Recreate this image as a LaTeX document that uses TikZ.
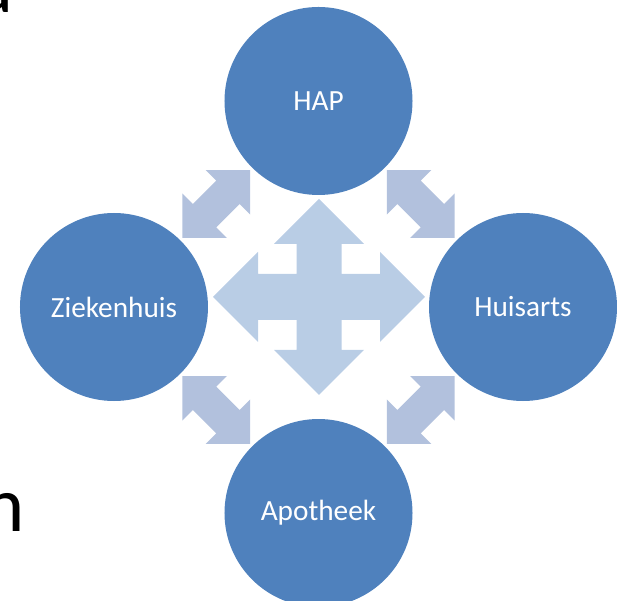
\documentclass[tikz,border=0pt]{standalone}
\usepackage{fontspec}
\setmainfont{Carlito}
\usepackage{tikz}
\usetikzlibrary{calc,positioning}
\definecolor{hubblue}{HTML}{4F81BD}
\definecolor{crossblue}{HTML}{B9CDE5}
\definecolor{linkblue}{HTML}{B2C1DD}
\tikzset{
    node distance =6.18cm and 6.135cm,on grid,
    hub/.style ={circle, fill=hubblue, minimum size = 5.64cm, inner sep=0pt, text=white, font=\fontsize{25}{30}\selectfont},
    frag/.style = {inner sep=0pt, anchor=base west, font=\fontsize{67}{80}\selectfont},
    link/.pic = {
        \fill[linkblue] (48,0) -- (16.5,31.5) -- (16.5,16.5) -- (-16.5,16.5) -- (-16.5,31.5)
            -- (-48,0) -- (-16.5,-31.5) -- (-16.5,-16.5) -- (16.5,-16.5) -- (16.5,-31.5) -- cycle;
    }
}

\begin{document}
\begin{tikzpicture}[x=0.03cm,y=0.03cm]
        \useasboundingbox (0,0) rectangle (617,601);

        \node[hub] (hap) at (318.5,500) {HAP};
        \node[hub] (zkh) [below left =of hap] {Ziekenhuis};
        \node[hub] (hua) [below right =of hap] {Huisarts};
        \node[hub] (apo) [below right =of zkh] {Apotheek};

        % big cross in the middle
        \fill[crossblue, shift={(319,304)}] (0,98) -- (45,53) -- (22.5,53) -- (22.5,23) -- (61,23) -- (61,45)
            -- (106,0) -- (61,-45) -- (61,-23) -- (22.5,-23) -- (22.5,-53) -- (45,-53)
            -- (0,-98) -- (-45,-53) -- (-22.5,-53) -- (-22.5,-23) -- (-61,-23) -- (-61,-45)
            -- (-106,0) -- (-61,45) -- (-61,23) -- (-22.5,23) -- (-22.5,53) -- (-45,53) -- cycle;

        \pic[rotate=45] at ($(zkh)!0.5!(hap)$) {link};
        \pic[rotate=-45] at ($(hap)!0.5!(hua)$) {link};
        \pic[rotate=-45] at ($(zkh)!0.5!(apo)$) {link};
        \pic[rotate=45] at ($(apo)!0.5!(hua)$) {link};

        % cut off text of the slide
        \node[frag] (fa) at (-25,588) {a};
        \node[frag] (fn) at (-17,69) {n};
    \end{tikzpicture}
\end{document}
